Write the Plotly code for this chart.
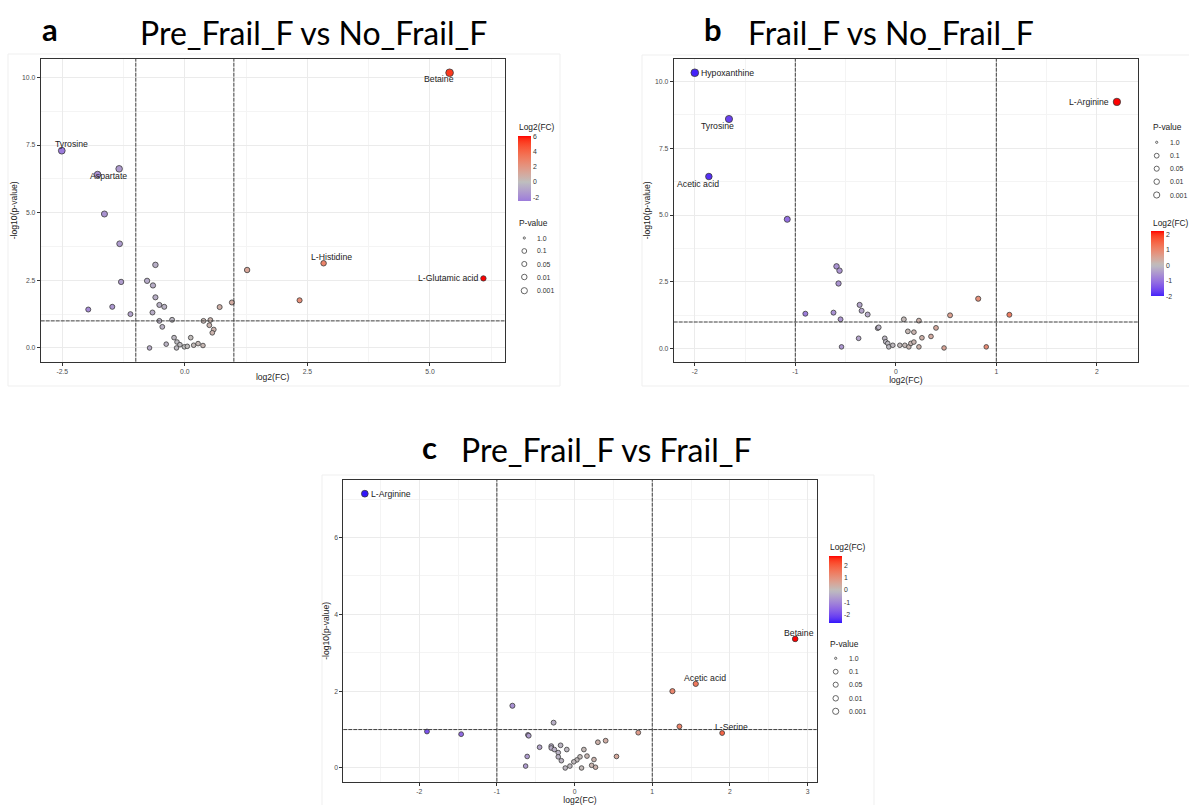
import math
import plotly.graph_objects as go

W, H = 1189, 805

# ---------------- data ----------------
# Panel a: Pre_Frail_F vs No_Frail_F  (first entries are the labelled metabolites)
A_NAMES = ["Betaine", "L-Glutamic acid", "L-Histidine", "Tyrosine", "Aspartate"]
A_FC = [5.40, 6.09, 2.83, -2.51, -1.78,
        -1.34, 1.27, 2.34, 0.96, 0.71, -1.64, -1.33, -1.30, -1.48, -1.97, -1.11,
        -0.60, -0.77, -0.65, -0.60, -0.52, -0.42, -0.66, -0.52, -0.46, -0.26,
        -0.72, -0.38, -0.22, -0.16, -0.10, -0.17, -0.01, 0.05, 0.12, 0.18,
        0.27, 0.37, 0.38, 0.52, 0.50, 0.59, 0.56]
A_NLP = [10.17, 2.57, 3.13, 7.29, 6.41,
         6.62, 2.88, 1.76, 1.68, 1.51, 4.95, 3.85, 2.44, 1.52, 1.42, 1.25,
         3.07, 2.48, 2.31, 1.87, 1.59, 1.52, 1.31, 1.00, 0.78, 1.04,
         0.00, 0.14, 0.38, 0.22, 0.12, 0.00, 0.04, 0.06, 0.38, 0.10,
         0.16, 0.09, 1.00, 1.03, 0.84, 0.68, 0.56]

# Panel b: Frail_F vs No_Frail_F
B_NAMES = ["Hypoxanthine", "L-Arginine", "Tyrosine", "Acetic acid"]
B_FC = [-2.00, 2.20, -1.66, -1.86,
        -1.08, -0.59, -0.56, -0.57, -0.36, -0.34, -0.28, -0.90, -0.62, -0.55,
        -0.18, -0.17, -0.37, -0.11, -0.10, -0.08, -0.07, -0.03, 0.04, 0.09,
        0.13, 0.15, 0.18, 0.23, 0.08, 0.23, 0.12, 0.18, 0.26, 0.35,
        0.40, 0.48, 0.54, 0.82, 0.90, 1.13, -0.54]
B_NLP = [10.32, 9.23, 8.59, 6.44,
         4.84, 3.08, 2.92, 2.44, 1.64, 1.42, 1.28, 1.31, 1.35, 1.10,
         0.77, 0.80, 0.39, 0.39, 0.26, 0.20, 0.07, 0.13, 0.13, 0.13,
         0.07, 0.20, 0.25, 0.07, 1.10, 1.05, 0.65, 0.62, 0.41, 0.46,
         0.78, 0.03, 1.25, 1.87, 0.07, 1.27, 0.07]

# Panel c: Pre_Frail_F vs Frail_F
C_NAMES = ["L-Arginine", "Betaine", "Acetic acid", "L-Serine"]
C_FC = [-2.70, 2.84, 1.56, 1.90,
        1.26, 1.35, 0.82, -0.80, -0.27, -1.90, -1.46, -0.60, -0.59, 0.40,
        0.30, 0.54, -0.45, -0.30, -0.30, -0.18, -0.26, -0.10, -0.21, -0.21,
        -0.17, -0.61, -0.63, 0.12, 0.16, 0.07, 0.03, -0.01, -0.06, -0.12,
        0.09, 0.25, 0.22, 0.27]
C_NLP = [7.14, 3.36, 2.19, 0.91,
         2.00, 1.08, 0.92, 1.62, 1.18, 0.95, 0.88, 0.86, 0.84, 0.71,
         0.67, 0.30, 0.54, 0.57, 0.52, 0.59, 0.48, 0.48, 0.40, 0.29,
         0.19, 0.30, 0.05, 0.48, 0.31, 0.29, 0.21, 0.16, 0.05, 0.00,
         0.00, 0.22, 0.07, 0.02]

FC_CUTOFF = [-1, 1]
NLP_CUTOFF = 1
P_BREAKS = ["1.0", "0.1", "0.05", "0.01", "0.001"]

TITLES = [("a", "Pre_Frail_F vs No_Frail_F"),
          ("b", "Frail_F vs No_Frail_F"),
          ("c", "Pre_Frail_F vs Frail_F")]

# ---------------- colour helpers (ggplot gradient2 in Lab) ----------------
def _hex_to_rgb(h):
    h = h.lstrip("#")
    return [int(h[i:i + 2], 16) / 255 for i in (0, 2, 4)]

def _lin(c):
    return c / 12.92 if c <= 0.04045 else ((c + 0.055) / 1.055) ** 2.4

def _delin(c):
    c = max(0.0, min(1.0, c))
    return 12.92 * c if c <= 0.0031308 else 1.055 * c ** (1 / 2.4) - 0.055

WX, WY, WZ = 0.95047, 1.0, 1.08883

def _f(t):
    return t ** (1 / 3) if t > 0.008856 else 7.787 * t + 16 / 116

def _finv(t):
    return t ** 3 if t ** 3 > 0.008856 else (t - 16 / 116) / 7.787

def hex_to_lab(h):
    r, g, b = [_lin(c) for c in _hex_to_rgb(h)]
    X = 0.4124 * r + 0.3576 * g + 0.1805 * b
    Y = 0.2126 * r + 0.7152 * g + 0.0722 * b
    Z = 0.0193 * r + 0.1192 * g + 0.9505 * b
    fx, fy, fz = _f(X / WX), _f(Y / WY), _f(Z / WZ)
    return (116 * fy - 16, 500 * (fx - fy), 200 * (fy - fz))

def lab_to_rgbstr(L, a, b):
    fy = (L + 16) / 116
    fx = fy + a / 500
    fz = fy - b / 200
    X, Y, Z = WX * _finv(fx), WY * _finv(fy), WZ * _finv(fz)
    r = 3.2406 * X - 1.5372 * Y - 0.4986 * Z
    g = -0.9689 * X + 1.8758 * Y + 0.0415 * Z
    bb = 0.0557 * X - 0.2040 * Y + 1.0570 * Z
    return "rgb(%d,%d,%d)" % tuple(round(_delin(c) * 255) for c in (r, g, bb))

LOW, MID, HIGH = hex_to_lab("#0000FF"), hex_to_lab("#BEBEBE"), hex_to_lab("#FF0000")

def gradient2(t):
    if t <= 0.5:
        s = t / 0.5
        p, q = LOW, MID
    else:
        s = (t - 0.5) / 0.5
        p, q = MID, HIGH
    return lab_to_rgbstr(*[p[i] + (q[i] - p[i]) * s for i in range(3)])

def make_scale(vmin, vmax, n=24):
    m = max(abs(vmin), abs(vmax))
    out = []
    for i in range(n + 1):
        v = vmin + (vmax - vmin) * i / n
        out.append([i / n, gradient2(0.5 + v / (2 * m))])
    return out

def expand(vals, frac=0.05):
    lo, hi = min(vals), max(vals)
    d = (hi - lo) * frac
    return [lo - d, hi + d]

def tick_array(rng, step, fmt):
    k0 = math.ceil(rng[0] / step - 1e-9)
    k1 = math.floor(rng[1] / step + 1e-9)
    vals = [k * step for k in range(k0, k1 + 1)]
    txt = [fmt.format(v).replace("\u2212", "-") for v in vals]
    txt = ["0" + t[2:] if t.startswith("-0") and float(t) == 0 else t for t in txt]
    return vals, txt

# ---------------- styling / placement (pixels) ----------------
TICK_FONT = dict(family="Liberation Sans", size=6.8, color="#4D4D4D")
AXTITLE_FONT = dict(family="Liberation Sans", size=8.6, color="#222222")
LEG_TITLE_FONT = dict(family="Liberation Sans", size=8.4, color="#222222")
LEG_TEXT_FONT = dict(family="Liberation Sans", size=6.9, color="#333333")
LABEL_FONT = dict(family="Liberation Sans", size=8.7, color="#222222")
HEAD_FONT = dict(family="Lato", size=32, color="#000000")
LETTER_FONT = dict(family="Lato", size=31, color="#000000", weight="bold")
REF_LINE = dict(color="#3C3C3C", width=1, dash="4px,1px")

PANELS = [
    dict(fc=A_FC, nlp=A_NLP, names=A_NAMES, box=(40.7, 504.5, 59, 361.7),
         xstep=2.5, xfmt="{:.1f}", ystep=2.5, yfmt="{:.1f}", cdtick=2,
         shifts=[(-11, -6, "center"), (-2, 0, "right"), (8, 6.5, "center"),
                 (10, 7, "center"), (11, -1, "center")],
         cbar=(517.7, 136, 12.6, 65.3), cbtitle=(517, 127.3),
         ptitle=(517, 223.3), pcirc_x=524.3, plab_x=535, prow=[238, 251, 264, 277, 290.7],
         letter=(50, 29), head=(313, 32), outer=(8, 560, 54, 386)),
    dict(fc=B_FC, nlp=B_NLP, names=B_NAMES, box=(673.7, 1138, 59, 361.7),
         xstep=1, xfmt="{:.0f}", ystep=2.5, yfmt="{:.1f}", cdtick=1,
         shifts=[(4, 0, "left"), (-6, 0, "right"), (-11, -7, "center"), (-10.5, -7, "center")],
         cbar=(1150.7, 231.3, 13.3, 65.4), cbtitle=(1151, 223.3),
         ptitle=(1151, 127.3), pcirc_x=1156.7, plab_x=1167.7, prow=[142.3, 155.7, 168.7, 181.7, 195],
         letter=(713, 29), head=(891, 32), outer=(642, 1195, 55, 386)),
    dict(fc=C_FC, nlp=C_NLP, names=C_NAMES, box=(343.3, 816.7, 480, 781.7),
         xstep=1, xfmt="{:.0f}", ystep=2, yfmt="{:.0f}", cdtick=1,
         shifts=[(4, 0, "left"), (3.5, 6, "center"), (9, 6, "center"), (9.5, 6, "center")],
         cbar=(829, 555.7, 13.3, 66.6), cbtitle=(828, 546.7),
         ptitle=(828, 643.7), pcirc_x=835.7, plab_x=846.7, prow=[658.3, 671.7, 684.7, 698.3, 711.3],
         letter=(429, 447), head=(606, 450), outer=(322, 874, 475, 810)),
]
P_LEG_DIAM = [2.2, 4.8, 5.1, 5.5, 6.2]

fig = go.Figure()
annotations, shapes = [], []
layout = dict(width=W, height=H, margin=dict(l=0, r=0, t=0, b=0),
              paper_bgcolor="white", plot_bgcolor="white", showlegend=False)

for i, P in enumerate(PANELS):
    n = i + 1
    sfx = "" if n == 1 else str(n)
    xa, ya = "x" + sfx, "y" + sfx
    cax = "coloraxis" + sfx
    x0, x1, y0, y1 = P["box"]
    xr, yr = expand(P["fc"]), expand(P["nlp"])

    # outer plot background border
    ox0, ox1, oy0, oy1 = P["outer"]
    shapes.append(dict(type="rect", xref="paper", yref="paper", x0=ox0 / W, x1=ox1 / W,
                       y0=1 - oy1 / H, y1=1 - oy0 / H, line=dict(color="#EFEFEF", width=1),
                       layer="below"))

    sizes = [4.6 + 0.3 * v for v in P["nlp"]]
    fig.add_trace(go.Scatter(
        x=P["fc"], y=P["nlp"], mode="markers", xaxis=xa, yaxis=ya,
        marker=dict(size=sizes, color=P["fc"], coloraxis=cax,
                    line=dict(color="#3A3A3A", width=0.8), opacity=1),
        hoverinfo="x+y"))

    xt, xtt = tick_array(xr, P["xstep"], P["xfmt"])
    yt, ytt = tick_array(yr, P["ystep"], P["yfmt"])
    common = dict(showline=True, linecolor="#333333", linewidth=1, mirror=True,
                  ticks="outside", ticklen=3, tickwidth=1, tickcolor="#333333",
                  showgrid=True, gridcolor="#EBEBEB", gridwidth=1, zeroline=False,
                  tickfont=TICK_FONT, tickmode="array")
    layout["xaxis" + sfx] = dict(common, domain=[x0 / W, x1 / W], range=xr, anchor=ya,
                                 tickvals=xt, ticktext=xtt,
                                 minor=dict(tick0=0, dtick=P["xstep"] / 2, showgrid=True,
                                            gridcolor="#F4F4F4", gridwidth=0.6, ticks=""),
                                 title=dict(text="log2(FC)", font=AXTITLE_FONT, standoff=0))
    layout["yaxis" + sfx] = dict(common, domain=[1 - y1 / H, 1 - y0 / H], range=yr, anchor=xa,
                                 tickvals=yt, ticktext=ytt,
                                 minor=dict(tick0=0, dtick=P["ystep"] / 2, showgrid=True,
                                            gridcolor="#F4F4F4", gridwidth=0.6, ticks=""),
                                 title=dict(text="-log10(p-value)", font=AXTITLE_FONT, standoff=3))

    # colour axis & colourbar
    bx, by, bw, bh = P["cbar"]
    cvals, ctext = tick_array([min(P["fc"]), max(P["fc"])], P["cdtick"], "{:.0f}")
    layout[cax] = dict(cmin=min(P["fc"]), cmax=max(P["fc"]),
                       colorscale=make_scale(min(P["fc"]), max(P["fc"])),
                       colorbar=dict(x=bx / W, xanchor="left", y=1 - by / H, yanchor="top",
                                     len=bh, lenmode="pixels", thickness=bw,
                                     thicknessmode="pixels", xpad=0, ypad=0, outlinewidth=0,
                                     ticks="", tickmode="array", tickvals=cvals, ticktext=ctext,
                                     tickfont=LEG_TEXT_FONT, title=dict(text="")))
    cx, cy = P["cbtitle"]
    annotations.append(dict(text="Log2(FC)", xref="paper", yref="paper", x=cx / W, y=1 - cy / H,
                            xanchor="left", yanchor="middle", showarrow=False, font=LEG_TITLE_FONT))

    # size (P-value) legend
    tx, ty = P["ptitle"]
    annotations.append(dict(text="P-value", xref="paper", yref="paper", x=tx / W, y=1 - ty / H,
                            xanchor="left", yanchor="middle", showarrow=False, font=LEG_TITLE_FONT))
    for lab, yy, d in zip(P_BREAKS, P["prow"], P_LEG_DIAM):
        r = d / 2
        shapes.append(dict(type="circle", xref="paper", yref="paper",
                           xsizemode="pixel", ysizemode="pixel",
                           xanchor=P["pcirc_x"] / W, yanchor=1 - yy / H,
                           x0=-r, x1=r, y0=-r, y1=r,
                           line=dict(color="#555555", width=0.9), fillcolor="white"))
        annotations.append(dict(text=lab, xref="paper", yref="paper", x=P["plab_x"] / W,
                                y=1 - yy / H, xanchor="left", yanchor="middle",
                                showarrow=False, font=LEG_TEXT_FONT))

    # threshold lines
    for v in FC_CUTOFF:
        shapes.append(dict(type="line", xref=xa, yref=ya + " domain", x0=v, x1=v, y0=0, y1=1,
                           line=REF_LINE))
    shapes.append(dict(type="line", xref=xa + " domain", yref=ya, x0=0, x1=1,
                       y0=NLP_CUTOFF, y1=NLP_CUTOFF, line=REF_LINE))

    # metabolite labels
    for k, name in enumerate(P["names"]):
        dx, dy, anc = P["shifts"][k]
        annotations.append(dict(text=name, xref=xa, yref=ya, x=P["fc"][k], y=P["nlp"][k],
                                xanchor=anc, yanchor="middle", xshift=dx, yshift=dy,
                                showarrow=False, font=LABEL_FONT))

    # headings
    letter, head = TITLES[i]
    lx, ly = P["letter"]
    hx, hy = P["head"]
    annotations.append(dict(text="<b>%s</b>" % letter, xref="paper", yref="paper",
                            x=lx / W, y=1 - ly / H, xanchor="center", yanchor="middle",
                            showarrow=False, font=LETTER_FONT))
    annotations.append(dict(text=head, xref="paper", yref="paper", x=hx / W, y=1 - hy / H,
                            xanchor="center", yanchor="middle", showarrow=False, font=HEAD_FONT))

layout["annotations"] = annotations
layout["shapes"] = shapes
fig.update_layout(**layout)
fig.write_html("out.html")
